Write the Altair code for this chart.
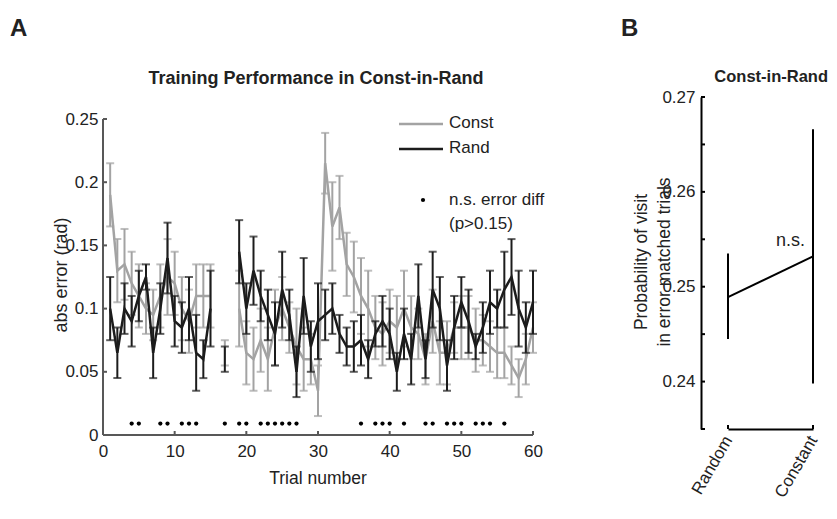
import altair as alt
import pandas as pd
import numpy as np

# ---------------- data ----------------
trials = list(range(1, 61))
nan = float("nan")
const_mean = [0.19, 0.13, 0.135, 0.12, 0.11, 0.10, 0.095, 0.11, 0.125, 0.12,
              0.10, 0.09, 0.11, 0.11, 0.11, nan, 0.065, nan, 0.10, 0.065,
              0.06, 0.075, 0.06, 0.085, 0.10, 0.085, 0.07, 0.06, 0.06, 0.035,
              0.215, 0.165, 0.18, 0.135, 0.125, 0.11, 0.10, 0.085, 0.08, 0.09,
              0.085, 0.10, 0.085, 0.08, 0.06, 0.09, 0.065, 0.065, 0.085, 0.085,
              0.085, 0.075, 0.075, 0.07, 0.065, 0.065, 0.055, 0.045, 0.06, 0.085]
const_err = [0.025, 0.025, 0.028, 0.025, 0.025, 0.02, 0.02, 0.025, 0.03, 0.025,
             0.025, 0.025, 0.025, 0.025, 0.025, nan, 0.01, nan, 0.03, 0.025,
             0.025, 0.025, 0.025, 0.03, 0.025, 0.02, 0.03, 0.025, 0.02, 0.02,
             0.024, 0.035, 0.025, 0.025, 0.028, 0.03, 0.03, 0.025, 0.025, 0.025,
             0.025, 0.03, 0.025, 0.02, 0.02, 0.025, 0.025, 0.025, 0.02, 0.025,
             0.025, 0.025, 0.02, 0.02, 0.02, 0.02, 0.015, 0.015, 0.02, 0.02]
rand_mean = [0.10, 0.065, 0.10, 0.09, 0.11, 0.125, 0.065, 0.10, 0.14, 0.09,
             0.085, 0.10, 0.065, 0.06, 0.10, nan, 0.06, nan, 0.145, 0.10,
             0.13, 0.11, 0.095, 0.08, 0.115, 0.095, 0.05, 0.11, 0.07, 0.09,
             0.095, 0.10, 0.08, 0.07, 0.07, 0.075, 0.06, 0.08, 0.09, 0.08,
             0.05, 0.08, 0.06, 0.11, 0.06, 0.115, 0.10, 0.055, 0.085, 0.105,
             0.09, 0.07, 0.085, 0.105, 0.10, 0.115, 0.125, 0.10, 0.085, 0.105]
rand_err = [0.025, 0.02, 0.02, 0.02, 0.02, 0.01, 0.02, 0.02, 0.028, 0.02,
            0.02, 0.025, 0.03, 0.015, 0.03, nan, 0.01, nan, 0.025, 0.02,
            0.027, 0.02, 0.02, 0.025, 0.03, 0.02, 0.02, 0.03, 0.02, 0.03,
            0.02, 0.02, 0.015, 0.015, 0.02, 0.02, 0.015, 0.01, 0.02, 0.02,
            0.015, 0.02, 0.02, 0.025, 0.015, 0.03, 0.025, 0.02, 0.025, 0.02,
            0.025, 0.01, 0.02, 0.025, 0.015, 0.03, 0.03, 0.03, 0.02, 0.025]
ns_trials = [4, 5, 8, 9, 11, 12, 13, 17, 19, 20, 22, 23, 24, 25, 26, 27,
             36, 38, 39, 40, 42, 45, 46, 48, 49, 50, 52, 53, 54, 56]
ns_level = 0.009

x_ticks_a = [0, 10, 20, 30, 40, 50, 60]
y_ticks_a = [0, 0.05, 0.1, 0.15, 0.2, 0.25]

b_conds = ["Random", "Constant"]
b_mean = [0.2489, 0.2532]
b_lo = [0.2445, 0.2398]
b_hi = [0.2535, 0.2666]
y_labels_b = [0.24, 0.25, 0.26, 0.27]
y_ticks_b = [0.235, 0.24, 0.245, 0.25, 0.255, 0.26, 0.265, 0.27]

legend_labels = ["Const", "Rand"]
ns_label = ["n.s. error diff", "(p>0.15)"]

GRAY = "#a3a3a3"
BLACK = "#1c1c1c"
AXGRAY = "#585858"
FONT = "Liberation Sans"
LBL = 17

# ---------------- panel A ----------------
W_A, H_A = 430, 338
TOP_A = 22


def series_df(mean, err, name):
    m = np.array(mean, dtype=float)
    e = np.array(err, dtype=float)
    seg = np.cumsum(np.isnan(m))
    df = pd.DataFrame({"trial": trials, "mean": m, "lo": m - e, "hi": m + e,
                       "seg": seg, "series": name})
    return df.dropna()


df_const = series_df(const_mean, const_err, "Const")
df_rand = series_df(rand_mean, rand_err, "Rand")

xs_a = alt.Scale(domain=[0, 60], nice=False)
ys_a = alt.Scale(domain=[0, 0.25], range=[H_A, TOP_A], nice=False, zero=False)
x_axis_a = alt.Axis(values=x_ticks_a, ticks=False, grid=False, domain=False,
                    labelFontSize=LBL, labelPadding=8, labelFlush=False,
                    labelColor="#222222", title=None, labelFont=FONT)
y_axis_a = alt.Axis(values=y_ticks_a, ticks=False, grid=False, domain=False,
                    labelFontSize=LBL, labelPadding=5, labelFlush=False,
                    labelColor="#222222", title=None, format="~g", labelFont=FONT)


def xa(field="trial"):
    return alt.X(f"{field}:Q", scale=xs_a, axis=x_axis_a, title=None)


def ya(field):
    return alt.Y(f"{field}:Q", scale=ys_a, axis=y_axis_a, title=None)


def series_layers(df, color):
    base = alt.Chart(df)
    line = base.mark_line(color=color, strokeWidth=2.5).encode(
        x=xa(), y=ya("mean"), detail="seg:N")
    bar = base.mark_rule(color=color, strokeWidth=2).encode(
        x=xa(), y=ya("lo"), y2="hi:Q")
    cap_lo = base.mark_tick(color=color, orient="horizontal", size=8, thickness=2).encode(
        x=xa(), y=ya("lo"))
    cap_hi = base.mark_tick(color=color, orient="horizontal", size=8, thickness=2).encode(
        x=xa(), y=ya("hi"))
    return [line, bar, cap_lo, cap_hi]


axis_name = pd.DataFrame({"axis": ["x", "y"]})
x_line = alt.Chart(axis_name.iloc[[0]]).mark_rule(color=AXGRAY, strokeWidth=2).encode(
    x=alt.value(0), x2=alt.value(W_A), y=alt.value(H_A))
y_line = alt.Chart(axis_name.iloc[[1]]).mark_rule(color=AXGRAY, strokeWidth=2).encode(
    x=alt.value(0), y=alt.value(TOP_A), y2=alt.value(H_A))

dots = alt.Chart(pd.DataFrame({"trial": ns_trials, "lvl": ns_level})).mark_point(
    filled=True, color="black", size=18, opacity=1).encode(x=xa(), y=ya("lvl"))

xtick_marks = alt.Chart(pd.DataFrame({"t": x_ticks_a})).mark_rule(
    color=AXGRAY, strokeWidth=2).encode(
    x=xa("t"), y=alt.value(H_A), y2=alt.value(H_A - 4))
ytick_marks = alt.Chart(pd.DataFrame({"v": y_ticks_a})).mark_rule(
    color=AXGRAY, strokeWidth=2).encode(
    y=ya("v"), x=alt.value(0), x2=alt.value(4))

legend_df = pd.DataFrame({"label": legend_labels})
leg_lines = [
    alt.Chart(legend_df.iloc[[i]]).mark_rule(color=c, strokeWidth=2.5).encode(
        x=alt.value(296), x2=alt.value(340), y=alt.value(27 + 25 * i))
    for i, c in enumerate([GRAY, BLACK])
]
leg_text = [
    alt.Chart(legend_df.iloc[[i]]).mark_text(
        align="left", baseline="middle", fontSize=17, font=FONT, color="#222222").encode(
        x=alt.value(346), y=alt.value(26 + 25 * i), text="label:N")
    for i in range(2)
]
ns_df = pd.DataFrame({"label": ns_label})
leg_dot = alt.Chart(ns_df.iloc[[0]]).mark_point(filled=True, color="black", size=18, opacity=1).encode(
    x=alt.value(320), y=alt.value(103))
leg_ns = [
    alt.Chart(ns_df.iloc[[i]]).mark_text(
        align="left", baseline="middle", fontSize=17, font=FONT, color="#222222").encode(
        x=alt.value(346), y=alt.value(103 + 24 * i), text="label:N")
    for i in range(2)
]

txt_a = pd.DataFrame({"t": ["Training Performance in Const-in-Rand", "Trial number",
                            "abs error (rad)", "A"]})
title_a = alt.Chart(txt_a.iloc[[0]]).mark_text(
    fontSize=18, fontWeight="bold", font=FONT, align="center", baseline="alphabetic",
    color="#222222").encode(x=alt.value(213), y=alt.value(-13), text="t:N")
xtitle_a = alt.Chart(txt_a.iloc[[1]]).mark_text(
    fontSize=17.5, font=FONT, align="center", baseline="alphabetic", color="#222222").encode(
    x=alt.value(215), y=alt.value(387), text="t:N")
ytitle_a = alt.Chart(txt_a.iloc[[2]]).mark_text(
    fontSize=18, font=FONT, align="center", baseline="middle", angle=270,
    color="#222222").encode(x=alt.value(-41), y=alt.value(178), text="t:N")
letter_a = alt.Chart(txt_a.iloc[[3]]).mark_text(
    fontSize=24, fontWeight="bold", font=FONT, align="left", baseline="alphabetic",
    color="#222222").encode(x=alt.value(-93), y=alt.value(-61), text="t:N")

panel_a = alt.layer(
    *series_layers(df_const, GRAY), *series_layers(df_rand, BLACK),
    x_line, y_line, dots, xtick_marks, ytick_marks, *leg_lines, *leg_text, leg_dot, *leg_ns,
    title_a, xtitle_a, ytitle_a, letter_a,
).properties(width=W_A, height=H_A)

# ---------------- panel B ----------------
W_B, H_B = 85, 332
df_b = pd.DataFrame({"cond": b_conds, "mean": b_mean, "lo": b_lo, "hi": b_hi})

xs_b = alt.Scale(type="point", padding=0, domain=b_conds)
ys_b = alt.Scale(domain=[0.235, 0.27], nice=False, zero=False)
x_axis_b = alt.Axis(ticks=False, grid=False, labelFontSize=LBL, labelAngle=300,
                    labelAlign="right", labelBaseline="middle", labelPadding=8,
                    domainColor="black", domainWidth=2, labelColor="#222222",
                    title=None, labelFont=FONT)
y_axis_b = alt.Axis(values=y_labels_b, ticks=False, grid=False, labelFontSize=LBL,
                    labelPadding=6, domainColor="black", domainWidth=2, offset=27,
                    labelFlush=False, labelColor="#222222", title=None, format=".2f",
                    labelFont=FONT)


def xb(field="cond"):
    return alt.X(f"{field}:N", scale=xs_b, axis=x_axis_b, sort=b_conds, title=None)


def yb(field):
    return alt.Y(f"{field}:Q", scale=ys_b, axis=y_axis_b, title=None)


base_b = alt.Chart(df_b)
b_bars = base_b.mark_rule(color="black", strokeWidth=2).encode(x=xb(), y=yb("lo"), y2="hi:Q")
b_line = base_b.mark_line(color="black", strokeWidth=2).encode(x=xb(), y=yb("mean"))
b_ns = alt.Chart(pd.DataFrame({"cond": ["Constant"], "lvl": [0.2548], "t": ["n.s."]})).mark_text(
    fontSize=18, font=FONT, align="right", baseline="middle", dx=-8, color="#222222").encode(
    x=xb(), y=yb("lvl"), text="t:N")
b_yticks = alt.Chart(pd.DataFrame({"v": y_ticks_b})).mark_rule(color="black", strokeWidth=2).encode(
    y=yb("v"), x=alt.value(-27), x2=alt.value(-23))
b_xticks = alt.Chart(pd.DataFrame({"cond": b_conds})).mark_rule(color="black", strokeWidth=2).encode(
    x=xb(), y=alt.value(H_B), y2=alt.value(H_B - 4))

txt_b = pd.DataFrame({"t": ["Const-in-Rand", "B"]})
title_b = alt.Chart(txt_b.iloc[[0]]).mark_text(
    fontSize=16.5, fontWeight="bold", font=FONT, align="right", baseline="alphabetic",
    color="#222222").encode(x=alt.value(100), y=alt.value(-15), text="t:N")
letter_b = alt.Chart(txt_b.iloc[[1]]).mark_text(
    fontSize=24, fontWeight="bold", font=FONT, align="left", baseline="alphabetic",
    color="#222222").encode(x=alt.value(-107), y=alt.value(-61), text="t:N")
ytitle_b = alt.Chart(pd.DataFrame({"t": [["Probability of visit", "in error matched trials"]]})).mark_text(
    fontSize=17.5, font=FONT, align="center", baseline="middle", angle=270, lineHeight=23,
    color="#222222").encode(x=alt.value(-86), y=alt.value(165), text="t")

panel_b = alt.layer(
    b_bars, b_line, b_ns, b_yticks, b_xticks, title_b, letter_b, ytitle_b
).properties(width=W_B, height=H_B)

chart = alt.hconcat(panel_a, panel_b, spacing=76).properties(
    padding={"left": 2, "top": 9, "right": 0, "bottom": 0}
).configure(font=FONT).configure_view(stroke=None, strokeWidth=0)

chart.save("out.html", embed_options={"renderer": "svg", "actions": False})
